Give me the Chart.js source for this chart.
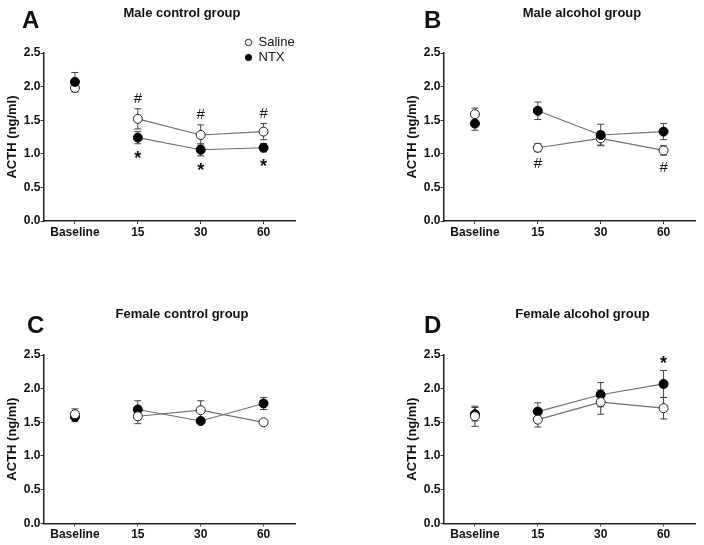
<!DOCTYPE html>
<html lang="en">
<head>
  <meta charset="UTF-8" />
  <title>ACTH</title>
  <script src="https://cdn.jsdelivr.net/npm/chart.js@4/dist/chart.umd.min.js"></script>
  <style>
    body {
      margin: 0;
      background: #fff;
      width: 704px;
      height: 545px;
      position: relative;
      overflow: hidden;
    }

    .panel {
      position: absolute;
      height: 265px;
    }
  </style>
</head>

<body>
  <div class="panel" style="left:0;top:0;width:352px"><canvas id="chartA"></canvas></div>
  <div class="panel" style="left:400px;top:0;width:304px"><canvas id="chartB"></canvas></div>
  <div class="panel" style="left:0;top:280px;width:352px"><canvas id="chartC"></canvas></div>
  <div class="panel" style="left:400px;top:280px;width:304px"><canvas id="chartD"></canvas></div>
  <script>
    const timepoints = ['Baseline', '15', '30', '60'];
    const yTicks = [0, 0.5, 1.0, 1.5, 2.0, 2.5];

    // A - male control
    const salineA = [1.98, 1.52, 1.28, 1.33];
    const salineSemA = [0.06, 0.15, 0.15, 0.12];
    const ntxA = [2.07, 1.24, 1.06, 1.09];
    const ntxSemA = [0.14, 0.09, 0.09, 0.06];

    // B - male alcohol
    const salineB = [1.59, 1.09, 1.23, 1.05];
    const salineSemB = [0.09, 0.06, 0.10, 0.07];
    const ntxB = [1.45, 1.64, 1.28, 1.33];
    const ntxSemB = [0.10, 0.13, 0.16, 0.12];

    // C - female control
    const salineC = [1.62, 1.59, 1.68, 1.50];
    const salineSemC = [0.08, 0.11, 0.14, 0.02];
    const ntxC = [1.58, 1.69, 1.52, 1.78];
    const ntxSemC = [0.07, 0.13, 0.03, 0.09];

    // D - female alcohol
    const salineD = [1.59, 1.54, 1.80, 1.71];
    const salineSemD = [0.15, 0.11, 0.18, 0.16];
    const ntxD = [1.62, 1.66, 1.91, 2.07];
    const ntxSemD = [0.10, 0.13, 0.18, 0.20];

    // significance marks: series, index, symbol, side
    const marksA = [
      ['saline', 1, '#', 'above'], ['saline', 2, '#', 'above'], ['saline', 3, '#', 'above'],
      ['ntx', 1, '*', 'below'], ['ntx', 2, '*', 'below'], ['ntx', 3, '*', 'below']
    ];
    const marksB = [['saline', 1, '#', 'below'], ['saline', 3, '#', 'below']];
    const marksC = [];
    const marksD = [['ntx', 3, '*', 'above']];

    const FONT = "'Liberation Sans', Arial, sans-serif";
    const LINE = '#707070';

    const overlay = {
      id: 'overlay',
      beforeDatasetsDraw(chart) {
        const { ctx, scales: { x, y } } = chart;
        ctx.save();
        ctx.strokeStyle = '#444';
        ctx.lineWidth = 1;
        chart.data.datasets.forEach(ds => {
          ds.sem.forEach((e, i) => {
            const px = x.getPixelForValue(i);
            const hi = y.getPixelForValue(ds.data[i] + e);
            const lo = y.getPixelForValue(ds.data[i] - e);
            ctx.beginPath();
            ctx.moveTo(px, hi); ctx.lineTo(px, lo);
            ctx.moveTo(px - 3.5, hi); ctx.lineTo(px + 3.5, hi);
            ctx.moveTo(px - 3.5, lo); ctx.lineTo(px + 3.5, lo);
            ctx.stroke();
          });
        });
        ctx.restore();
      },
      afterDraw(chart, args, o) {
        const { ctx, scales: { x, y } } = chart;
        ctx.save();
        ctx.fillStyle = '#111';
        ctx.textAlign = 'left';
        ctx.textBaseline = 'alphabetic';
        ctx.font = 'bold 24px ' + FONT;
        ctx.fillText(o.letter, o.letterX, o.letterY);
        ctx.textAlign = 'center';
        ctx.font = 'bold 13px ' + FONT;
        ctx.fillText(o.title, o.titleX, o.titleY);

        if (o.legend) {
          chart.data.datasets.forEach((ds, k) => {
            const ly = 42.5 + k * 15;
            ctx.beginPath();
            ctx.arc(248.5, ly, 3.2, 0, Math.PI * 2);
            ctx.fillStyle = ds.pointBackgroundColor;
            ctx.fill();
            ctx.strokeStyle = '#222';
            ctx.lineWidth = 1;
            ctx.stroke();
            ctx.fillStyle = '#111';
            ctx.textAlign = 'left';
            ctx.textBaseline = 'middle';
            ctx.font = '13px ' + FONT;
            ctx.fillText(ds.label, 258.5, ly);
          });
        }

        ctx.textAlign = 'center';
        ctx.textBaseline = 'alphabetic';
        o.marks.forEach(([s, i, sym, side]) => {
          const ds = chart.data.datasets.find(d => d.key === s);
          const px = x.getPixelForValue(i);
          const py = side === 'above'
            ? y.getPixelForValue(ds.data[i] + ds.sem[i]) - 11
            : y.getPixelForValue(ds.data[i] - ds.sem[i]) + 11;
          if (sym === '*') {
            ctx.font = 'bold 18px ' + FONT;
            ctx.fillText(sym, px, py + 9.5);
          } else {
            ctx.font = '15px ' + FONT;
            ctx.fillText(sym, px, py + 5.5);
          }
        });
        ctx.restore();
      }
    };

    function makeChart(id, saline, salineSem, ntx, ntxSem, opts) {
      const ctx = document.getElementById(id).getContext('2d');
      const segment = { borderColor: c => c.p0DataIndex === 0 ? 'rgba(0,0,0,0)' : LINE };
      return new Chart(ctx, {
        type: 'line',
        data: {
          labels: timepoints,
          datasets: [
            {
              key: 'saline',
              label: 'Saline',
              data: saline,
              sem: salineSem,
              borderColor: LINE,
              borderWidth: 1.2,
              pointBackgroundColor: '#fff',
              pointBorderColor: '#222',
              pointBorderWidth: 1,
              pointRadius: 4.5,
              segment: segment,
              order: opts.ntxOnTop ? 1 : 0
            },
            {
              key: 'ntx',
              label: 'NTX',
              data: ntx,
              sem: ntxSem,
              borderColor: LINE,
              borderWidth: 1.2,
              pointBackgroundColor: '#000',
              pointBorderColor: '#000',
              pointBorderWidth: 1,
              pointRadius: 4.5,
              segment: segment,
              order: opts.ntxOnTop ? 0 : 1
            }
          ]
        },
        options: {
          responsive: true,
          maintainAspectRatio: false,
          animation: false,
          layout: { padding: { left: 0, top: opts.padTop, right: opts.padRight, bottom: 0 } },
          plugins: {
            legend: { display: false },
            tooltip: { enabled: false },
            overlay: opts
          },
          scales: {
            x: {
              offset: true,
              grid: { drawOnChartArea: false, offset: false, tickLength: 3, color: '#333' },
              border: { color: '#222', width: 1.5 },
              ticks: { color: '#111', padding: 1, font: { family: FONT, size: 12, weight: 'bold' } },
              afterFit: s => { s.height = opts.xHeight; }
            },
            y: {
              min: 0,
              max: 2.5,
              afterBuildTicks: s => { s.ticks = yTicks.map(v => ({ value: v })); },
              grid: { drawOnChartArea: false, tickLength: 3, color: '#333' },
              border: { color: '#222', width: 1.5 },
              ticks: {
                color: '#111', padding: 0,
                font: { family: FONT, size: 12, weight: 'bold' },
                callback: v => v.toFixed(1)
              },
              title: {
                display: true,
                text: 'ACTH (ng/ml)',
                color: '#111',
                padding: { top: 5, bottom: 0 },
                font: { family: FONT, size: 13, weight: 'bold' }
              },
              afterFit: s => { s.width = 43.5; }
            }
          }
        },
        plugins: [overlay]
      });
    }

    makeChart('chartA', salineA, salineSemA, ntxA, ntxSemA, {
      letter: 'A', letterX: 22, letterY: 28, title: 'Male control group', titleX: 182, titleY: 17,
      legend: true, marks: marksA, padTop: 53, padRight: 57, xHeight: 44, ntxOnTop: true
    });
    makeChart('chartB', salineB, salineSemB, ntxB, ntxSemB, {
      letter: 'B', letterX: 24, letterY: 28, title: 'Male alcohol group', titleX: 182, titleY: 17,
      legend: false, marks: marksB, padTop: 53, padRight: 9, xHeight: 44, ntxOnTop: true
    });
    makeChart('chartC', salineC, salineSemC, ntxC, ntxSemC, {
      letter: 'C', letterX: 27, letterY: 53, title: 'Female control group', titleX: 182, titleY: 38,
      legend: false, marks: marksC, padTop: 75, padRight: 57, xHeight: 21.7, ntxOnTop: false
    });
    makeChart('chartD', salineD, salineSemD, ntxD, ntxSemD, {
      letter: 'D', letterX: 24, letterY: 53, title: 'Female alcohol group', titleX: 182.5, titleY: 38,
      legend: false, marks: marksD, padTop: 75, padRight: 9, xHeight: 21.7, ntxOnTop: false
    });
  </script>
</body>

</html>
